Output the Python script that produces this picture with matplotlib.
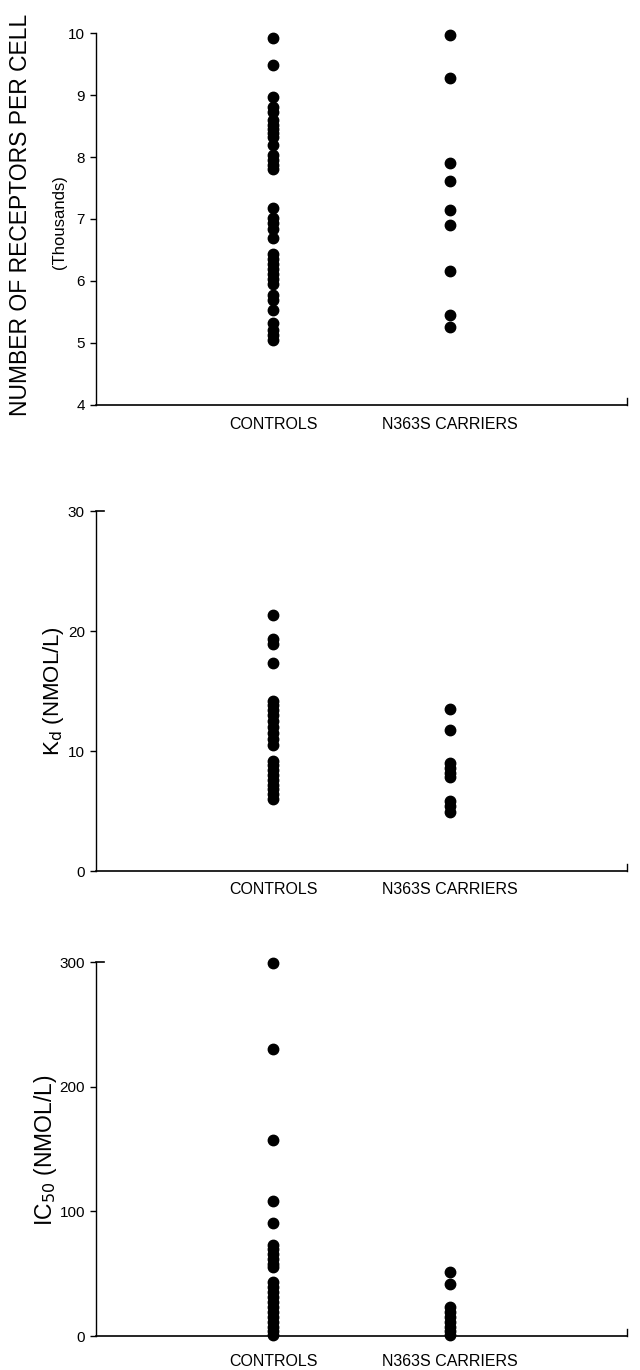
import matplotlib
matplotlib.use('Agg')
import matplotlib.pyplot as plt

plt.rcParams['font.family'] = ['Liberation Sans', 'DejaVu Sans']

groups = ['CONTROLS', 'N363S CARRIERS']

# receptors per cell (thousands)
rec_controls = [9.92, 9.48, 8.97, 8.80, 8.73, 8.60, 8.52, 8.45, 8.38, 8.32, 8.20,
                8.03, 7.95, 7.87, 7.80, 7.17, 7.01, 6.93, 6.84, 6.70, 6.44, 6.36,
                6.28, 6.20, 6.12, 6.04, 5.95, 5.78, 5.70, 5.53, 5.32, 5.21, 5.13, 5.04]
rec_carriers = [9.97, 9.28, 7.91, 7.62, 7.14, 6.90, 6.16, 5.45, 5.25]

# Kd (nmol/L)
kd_controls = [21.3, 19.3, 18.9, 17.3, 14.2, 13.8, 13.4, 13.0, 12.5, 12.0, 11.5,
               11.0, 10.5, 9.2, 8.8, 8.4, 8.0, 7.6, 7.2, 6.8, 6.4, 6.0]
kd_carriers = [13.5, 11.75, 9.0, 8.6, 8.2, 7.8, 5.85, 5.4, 4.95]

# IC50 (nmol/L)
ic_controls = [299, 230, 157, 108, 91, 73, 70, 66, 62, 58, 55, 43, 39, 35, 31,
               27, 23, 19, 15, 11, 7, 4, 1]
ic_carriers = [51, 42, 23, 19, 15, 11, 7, 4, 1]

panels = [
    (rec_controls, rec_carriers, (4, 10), [4, 5, 6, 7, 8, 9, 10],
     [0.15, 0.7044, 0.83, 0.2715], 9),
    (kd_controls, kd_carriers, (0, 30), [0, 10, 20, 30],
     [0.15, 0.3642, 0.83, 0.2628], 8),
    (ic_controls, ic_carriers, (0, 300), [0, 100, 200, 300],
     [0.15, 0.0248, 0.83, 0.2730], 13),
]

fig = plt.figure(figsize=(6.4, 13.7), dpi=100)
axes = []
for ctrl, carr, ylim, yticks, rect, xpad in panels:
    ax = fig.add_axes(rect)
    ax.plot([1] * len(ctrl), ctrl, 'o', color='black', markersize=7.5, clip_on=False)
    ax.plot([2] * len(carr), carr, 'o', color='black', markersize=7.5, clip_on=False)
    ax.set_xlim(0, 3)
    ax.set_ylim(*ylim)
    ax.set_yticks(yticks)
    ax.set_xticks([1, 2])
    ax.set_xticklabels(groups, fontsize=11.5)
    ax.tick_params(axis='x', length=0, pad=xpad)
    ax.tick_params(axis='y', direction='out', length=4, width=1, labelsize=11, pad=4)
    for s in ['top', 'right']:
        ax.spines[s].set_visible(False)
    ax.spines['left'].set_linewidth(1)
    ax.spines['bottom'].set_linewidth(1.2)
    # small upturned end of the x axis
    ax.plot([1, 1], [0, 0.02], transform=ax.transAxes, color='black', lw=1, clip_on=False)
    axes.append(ax)

# top ticks turned inward on the lower two panels
for ax in axes[1:]:
    ax.plot([0, 0.015], [1, 1], transform=ax.transAxes, color='black', lw=1.2, clip_on=False)

fig.text(21 / 640, 1 - 215 / 1370, 'NUMBER OF RECEPTORS PER CELL', rotation=90,
         fontsize=16.5, ha='center', va='center')
fig.text(59 / 640, 1 - 222 / 1370, '(Thousands)', rotation=90, fontsize=12,
         ha='center', va='center')
fig.text(54 / 640, 1 - 691 / 1370, 'K$_{\\rm d}$ (NMOL/L)', rotation=90,
         fontsize=16, ha='center', va='center')
fig.text(46 / 640, 1 - 1150 / 1370, 'IC$_{50}$ (NMOL/L)', rotation=90,
         fontsize=16.5, ha='center', va='center')

fig.savefig('out.png', dpi=100)
